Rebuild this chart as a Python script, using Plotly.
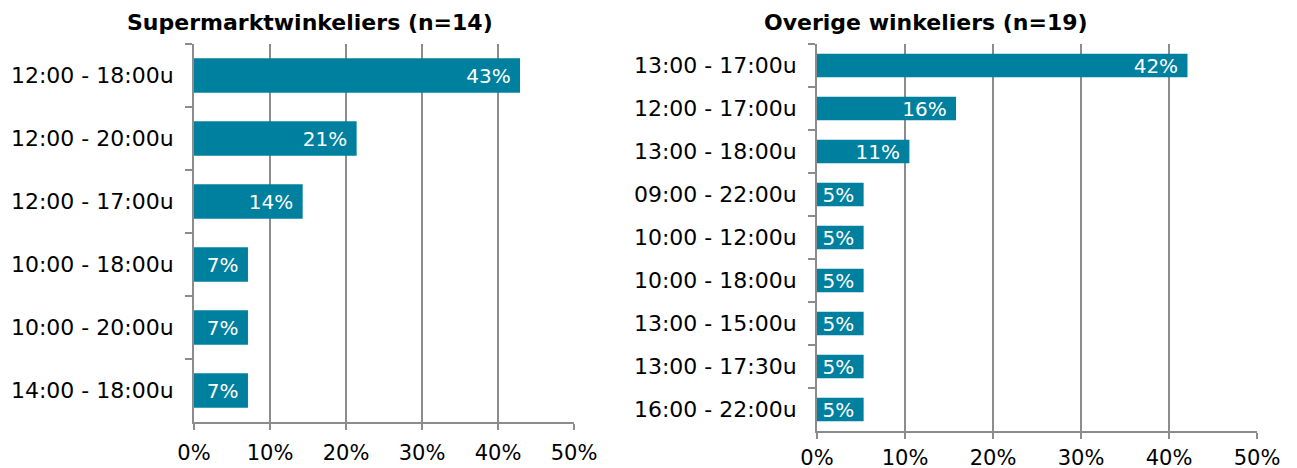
import plotly.graph_objects as go

# === Data ===
super_title = "Supermarktwinkeliers (n=14)"
super_slots = ["12:00 - 18:00u", "12:00 - 20:00u", "12:00 - 17:00u",
               "10:00 - 18:00u", "10:00 - 20:00u", "14:00 - 18:00u"]
super_pct = [42.9, 21.4, 14.3, 7.1, 7.1, 7.1]

other_title = "Overige winkeliers (n=19)"
other_slots = ["13:00 - 17:00u", "12:00 - 17:00u", "13:00 - 18:00u",
               "09:00 - 22:00u", "10:00 - 12:00u", "10:00 - 18:00u",
               "13:00 - 15:00u", "13:00 - 17:30u", "16:00 - 22:00u"]
other_pct = [42.1, 15.8, 10.5, 5.3, 5.3, 5.3, 5.3, 5.3, 5.3]

x_ticks = [0, 10, 20, 30, 40, 50]
x_labels = ["0%", "10%", "20%", "30%", "40%", "50%"]

# === Style ===
W, H = 1297, 468
OFF = 8  # page body margin shifts the figure by 8px
BAR = "#00809f"
GRID = "#8c8c8c"
FONT = "DejaVu Sans"


def px_x(a, b):
    return [(a - OFF) / W, (b - OFF) / W]


def px_y(top, bottom):
    return [1 - (bottom - OFF) / H, 1 - (top - OFF) / H]


fig = go.Figure()

for vals, cats, xa, ya in [(super_pct, super_slots, "x", "y"),
                           (other_pct, other_slots, "x2", "y2")]:
    fig.add_trace(go.Bar(
        x=vals, y=cats, orientation="h",
        marker=dict(color=BAR, line=dict(width=0)),
        width=0.55,
        texttemplate="%{x:.0f}%\u00a0",
        textposition="inside", insidetextanchor="end", constraintext="none",
        textfont=dict(color="white", size=20, family=FONT),
        xaxis=xa, yaxis=ya, hoverinfo="skip",
    ))

xaxis_common = dict(
    range=[0, 50], tickvals=x_ticks, ticktext=x_labels,
    showgrid=True, gridcolor=GRID, gridwidth=2,
    showline=True, linecolor=GRID, linewidth=2,
    ticks="outside", ticklen=6, tickcolor=GRID, tickwidth=2,
    zeroline=False, fixedrange=True, automargin=False,
    tickfont=dict(size=21, family=FONT, color="black"),
)
yaxis_common = dict(
    autorange="reversed", type="category",
    showgrid=False, showline=True, linecolor=GRID, linewidth=2,
    ticks="outside", tickson="boundaries", ticklen=7, tickcolor=GRID, tickwidth=2,
    ticklabelstandoff=14, zeroline=False, fixedrange=True, automargin=False,
    tickfont=dict(size=22, family=FONT, color="black"),
)

fig.update_layout(
    width=W, height=H,
    margin=dict(l=0, r=0, t=0, b=0, autoexpand=False),
    paper_bgcolor="white", plot_bgcolor="white",
    showlegend=False, bargap=0.45,
    xaxis=dict(domain=px_x(194, 574), anchor="y", ticklabelstandoff=5, **xaxis_common),
    yaxis=dict(domain=px_y(44, 422), anchor="x", **yaxis_common),
    xaxis2=dict(domain=px_x(817, 1257), anchor="y2", ticklabelstandoff=1, **xaxis_common),
    yaxis2=dict(domain=px_y(44, 431), anchor="x2", **yaxis_common),
    annotations=[
        dict(text="<b>" + super_title + "</b>", x=(310 - OFF) / W,
             y=1 - (22 - OFF) / H,
             xref="paper", yref="paper", showarrow=False,
             xanchor="center", yanchor="middle",
             font=dict(size=22, family=FONT, color="black")),
        dict(text="<b>" + other_title + "</b>", x=(926 - OFF) / W,
             y=1 - (22 - OFF) / H,
             xref="paper", yref="paper", showarrow=False,
             xanchor="center", yanchor="middle",
             font=dict(size=22, family=FONT, color="black")),
    ],
)

fig.write_html("out.html")
